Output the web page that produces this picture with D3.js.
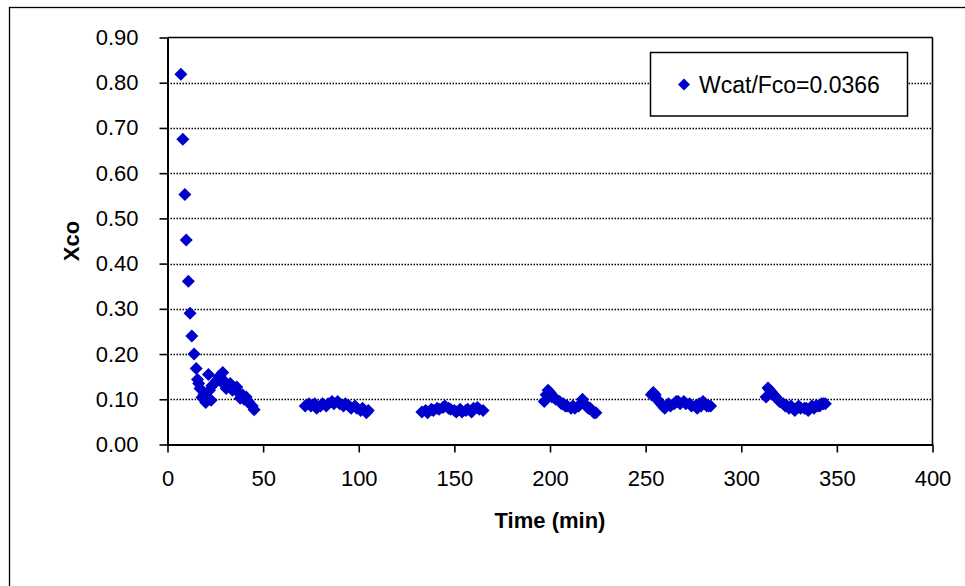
<!DOCTYPE html>
<html>
<head>
<meta charset="utf-8">
<script src="https://cdn.jsdelivr.net/npm/d3@7/dist/d3.min.js"></script>
<style>
  html, body { margin: 0; padding: 0; background: #fff; }
  svg { display: block; font-family: "Liberation Sans", Arial, sans-serif; }
</style>
</head>
<body>
<svg id="chart" width="965" height="586"></svg>
<script>
// ---- data ----
const seriesName = "Wcat/Fco=0.0366";
const xTicks = [0, 50, 100, 150, 200, 250, 300, 350, 400];
const yTicks = [0, 0.1, 0.2, 0.3, 0.4, 0.5, 0.6, 0.7, 0.8, 0.9];
const xTitle = "Time (min)";
const yTitle = "Xco";

const time1 = [7.0, 8.0, 9.1, 9.8, 10.9, 11.8, 12.7, 13.9, 15.0, 15.7, 16.3, 17.0, 18.0, 19.0, 20.0, 21.4, 22.0, 22.8, 23.2, 24.5, 25.8, 26.8, 27.8, 28.9, 29.8, 30.7, 31.7, 32.8, 34.0, 35.0, 36.2, 37.0, 38.0, 39.2, 40.0, 41.1, 42.2, 43.2, 44.3, 45.3];
const xco1  = [0.819, 0.675, 0.553, 0.452, 0.361, 0.29, 0.24, 0.20, 0.168, 0.144, 0.135, 0.124, 0.104, 0.11, 0.093, 0.155, 0.12, 0.098, 0.13, 0.135, 0.142, 0.15, 0.14, 0.159, 0.14, 0.124, 0.13, 0.135, 0.12, 0.125, 0.127, 0.115, 0.102, 0.11, 0.10, 0.105, 0.095, 0.089, 0.085, 0.077];

const time2 = [72, 74, 75, 77, 78, 80, 81, 83, 84, 86, 87, 89, 90, 92, 93, 95, 96, 98, 99, 101, 102, 104, 105];
const xco2  = [0.085, 0.09, 0.085, 0.09, 0.08, 0.085, 0.09, 0.085, 0.09, 0.095, 0.09, 0.095, 0.09, 0.085, 0.09, 0.085, 0.08, 0.085, 0.08, 0.075, 0.08, 0.07, 0.075];

const time3 = [133, 135, 136, 138, 139, 141, 142, 144, 145, 147, 148, 150, 151, 153, 154, 156, 157, 159, 160, 162, 163, 165];
const xco3  = [0.072, 0.075, 0.07, 0.078, 0.075, 0.08, 0.078, 0.082, 0.085, 0.08, 0.078, 0.075, 0.072, 0.078, 0.072, 0.075, 0.078, 0.072, 0.08, 0.082, 0.078, 0.075];

const time4 = [197, 198, 199, 200, 201, 202, 203, 205, 206, 207, 208, 209, 211, 212, 213, 215, 216, 217, 218, 219, 220, 221, 222, 223, 224];
const xco4  = [0.095, 0.11, 0.12, 0.115, 0.105, 0.105, 0.10, 0.095, 0.09, 0.09, 0.085, 0.085, 0.08, 0.085, 0.08, 0.085, 0.09, 0.10, 0.09, 0.085, 0.08, 0.08, 0.075, 0.07, 0.07];

const time5 = [253, 254, 255, 256, 257, 258, 259, 260, 261, 262, 263, 265, 266, 267, 268, 270, 271, 273, 274, 276, 277, 278, 279, 280, 281, 282, 283, 284];
const xco5  = [0.11, 0.115, 0.11, 0.10, 0.095, 0.09, 0.085, 0.08, 0.085, 0.09, 0.085, 0.09, 0.095, 0.095, 0.09, 0.095, 0.09, 0.09, 0.085, 0.085, 0.08, 0.09, 0.085, 0.095, 0.09, 0.085, 0.085, 0.085];

const time6 = [313, 314, 315, 316, 317, 318, 319, 320, 322, 323, 324, 325, 326, 327, 328, 329, 330, 331, 333, 334, 335, 336, 337, 338, 339, 340, 341, 342, 343, 344];
const xco6  = [0.105, 0.125, 0.12, 0.115, 0.11, 0.105, 0.10, 0.095, 0.09, 0.085, 0.085, 0.08, 0.085, 0.08, 0.075, 0.08, 0.085, 0.08, 0.08, 0.08, 0.075, 0.08, 0.085, 0.08, 0.085, 0.085, 0.085, 0.09, 0.09, 0.09];

const timeAll = [].concat(time1, time2, time3, time4, time5, time6);
const xcoAll  = [].concat(xco1, xco2, xco3, xco4, xco5, xco6);
const points = timeAll.map((t, i) => ({ t: t, v: xcoAll[i] }));

// ---- layout ----
const svg = d3.select("#chart");
const plot = { left: 167.5, right: 932.5, top: 37.5, bottom: 444.5 };
const markerColor = "#0000CC";

const x = d3.scaleLinear().domain([0, 400]).range([plot.left, plot.right]);
const y = d3.scaleLinear().domain([0, 0.9]).range([plot.bottom, plot.top]);

// outer chart border (extends past the image on right/bottom)
svg.append("rect")
  .attr("x", 9.5).attr("y", 7.5).attr("width", 1200).attr("height", 800)
  .attr("fill", "#fff").attr("stroke", "#000").attr("stroke-width", 1.3);

// gridlines
svg.append("g").selectAll("line")
  .data(yTicks.filter(d => d > 0 && d < 0.9))
  .join("line")
  .attr("x1", plot.left).attr("x2", plot.right)
  .attr("y1", d => Math.round(y(d)) + 0.5).attr("y2", d => Math.round(y(d)) + 0.5)
  .attr("stroke", "#000").attr("stroke-width", 1.5)
  .attr("stroke-dasharray", "1.5,1.5");

// plot frame top / right
svg.append("line")
  .attr("x1", plot.left).attr("x2", plot.right)
  .attr("y1", plot.top).attr("y2", plot.top)
  .attr("stroke", "#000").attr("stroke-width", 1.6);
svg.append("line")
  .attr("x1", plot.right).attr("x2", plot.right)
  .attr("y1", plot.top).attr("y2", plot.bottom)
  .attr("stroke", "#000").attr("stroke-width", 1.6);

// axes
const fontTick = 22;
const xAxis = d3.axisBottom(x).tickValues(xTicks).tickFormat(d3.format("d"))
  .tickSizeInner(8).tickSizeOuter(0).tickPadding(18);
const gx = svg.append("g").attr("transform", `translate(0,${plot.bottom})`).call(xAxis);
gx.select(".domain").attr("stroke-width", 2);
gx.selectAll(".tick line").attr("stroke-width", 1.6);
gx.selectAll("text").attr("font-size", fontTick).attr("fill", "#000")
  .attr("font-family", "'Liberation Sans', Arial, sans-serif");

const yAxis = d3.axisLeft(y).tickValues(yTicks).tickFormat(d3.format(".2f"))
  .tickSizeInner(8).tickSizeOuter(0).tickPadding(21);
const gy = svg.append("g").attr("transform", `translate(${plot.left},0)`).call(yAxis);
gy.select(".domain").attr("stroke-width", 2);
gy.selectAll(".tick line").attr("stroke-width", 1.6);
gy.selectAll("text").attr("font-size", fontTick).attr("fill", "#000")
  .attr("font-family", "'Liberation Sans', Arial, sans-serif");

// axis titles
svg.append("text")
  .attr("x", (plot.left + plot.right) / 2).attr("y", 528)
  .attr("text-anchor", "middle").attr("font-size", 22).attr("font-weight", "bold")
  .text(xTitle);
svg.append("text")
  .attr("transform", `translate(79,${(plot.top + plot.bottom) / 2}) rotate(-90)`)
  .attr("text-anchor", "middle").attr("font-size", 22).attr("font-weight", "bold")
  .text(yTitle);

// markers
const diamond = "M0,-6.5L6.5,0L0,6.5L-6.5,0Z";
svg.append("g").selectAll("path")
  .data(points)
  .join("path")
  .attr("d", diamond)
  .attr("transform", d => `translate(${x(d.t)},${y(d.v)})`)
  .attr("fill", markerColor);

// legend
const lg = svg.append("g");
lg.append("rect")
  .attr("x", 650.5).attr("y", 52.5).attr("width", 257).attr("height", 63.5)
  .attr("fill", "#fff").attr("stroke", "#000").attr("stroke-width", 1.5);
lg.append("path").attr("d", "M0,-6L6,0L0,6L-6,0Z")
  .attr("transform", "translate(684,84.5)").attr("fill", markerColor);
lg.append("text").attr("x", 699).attr("y", 92.5)
  .attr("font-size", 23).attr("fill", "#000").text(seriesName);
</script>
</body>
</html>
